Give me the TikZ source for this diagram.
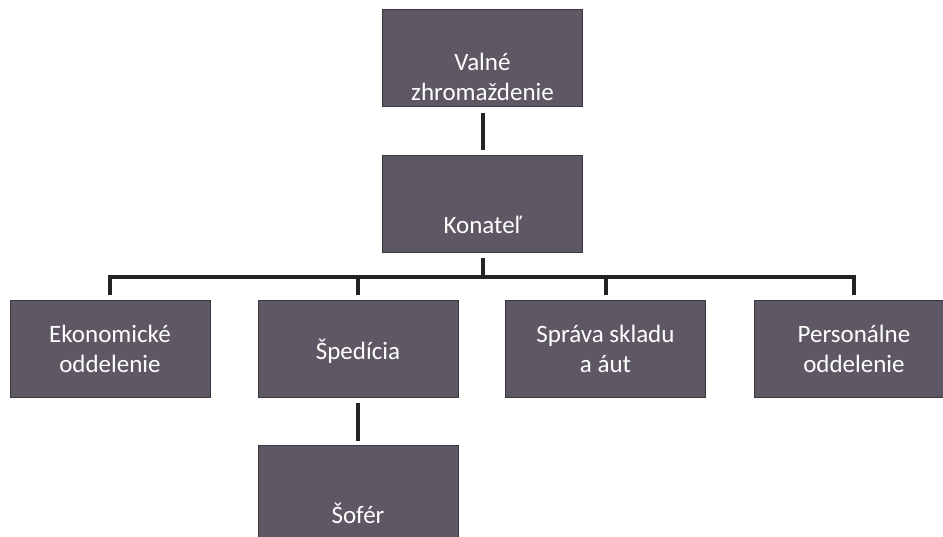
\documentclass[tikz,border=0pt]{standalone}
\usepackage{fontspec}
\setmainfont{Carlito}
\usetikzlibrary{positioning}

\definecolor{boxfill}{RGB}{94,88,100}
\definecolor{boxedge}{RGB}{58,54,62}
\definecolor{linkcol}{RGB}{35,35,38}

\tikzset{
  unit/.style = {
    rectangle,                    % org chart box
    draw           = boxedge,     % border
    line width     = .8pt,        % border width
    fill           = boxfill,
    minimum width  = 200pt,       % box width
    minimum height = 97pt,        % box height
    inner sep      = 0pt,
  },
  caption/.style = {
    font  = \fontsize{25}{30}\selectfont,
    text  = white,                % inner label color
    align = center,
  },
  link/.style = {
    draw       = linkcol,
    line width = 4pt,             % connector width
  },
}

\begin{document}
\begin{tikzpicture}[x=1pt, y=-1pt]
\useasboundingbox (0, 0) rectangle (943, 537);
\clip (0, 0) rectangle (943, 537);

% boxes
\node[unit] (valne)   at (482.5, 58)  {};
\node[unit] (konatel) at (482.5, 204) {};
\node[unit] (ekon)    at (110, 349)   {};
\node[unit] (sped)    at (358, 349)   {};
\node[unit] (sprava)  at (605.5, 349) {};
\node[unit] (person)  at (854, 349)   {};
\node[unit] (sofer)   at (358, 494)   {};

% labels
\node[caption] (valneT)   at ([yshift=-19pt]valne.center)   {Valné\\zhromaždenie};
\node[caption] (konatelT) at ([yshift=-21pt]konatel.center) {Konateľ};
\node[caption] (ekonT)    at (ekon.center)                  {Ekonomické\\oddelenie};
\node[caption] (spedT)    at ([yshift=-2pt]sped.center)     {Špedícia};
\node[caption] (spravaT)  at (sprava.center)                {Správa skladu\\a áut};
\node[caption] (personT)  at (person.center)                {Personálne\\oddelenie};
\node[caption] (soferT)   at ([yshift=-19pt]sofer.center)   {Šofér};

% connectors
\coordinate (bus) at ([yshift=-24pt]konatel.south);
\draw[link] ([yshift=-6pt]valne.south) -- ([yshift=5pt]konatel.north);
\draw[link] ([yshift=-5pt]konatel.south) -- (bus);
\draw[link] ([yshift=5pt]ekon.north) -- (ekon.north |- bus)
  -- (person.north |- bus) -- ([yshift=5pt]person.north);
\draw[link] (sped.north |- bus) -- ([yshift=5pt]sped.north);
\draw[link] (sprava.north |- bus) -- ([yshift=5pt]sprava.north);
\draw[link] ([yshift=-5pt]sped.south) -- ([yshift=4pt]sofer.north);
\end{tikzpicture}
\end{document}
